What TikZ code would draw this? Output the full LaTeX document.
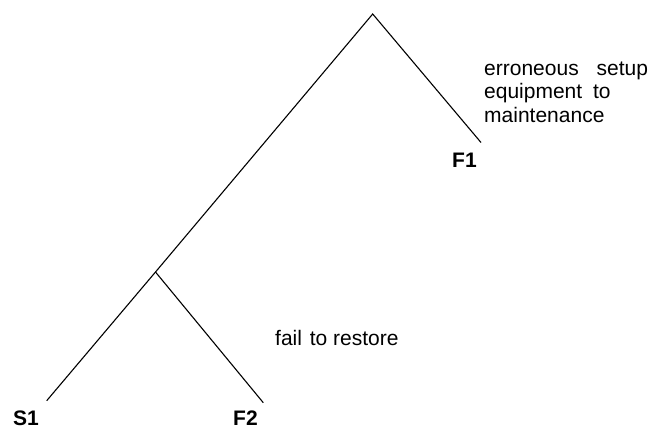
\documentclass[tikz,border=0pt]{standalone}
\usepackage{fontspec}
\setmainfont{Liberation Sans}
\begin{document}
\begin{tikzpicture}[x=1bp,y=-1bp,
  branch/.style={line width=1.1bp,black},
  endlabel/.style={anchor=base west,inner sep=0pt,font=\fontsize{21bp}{23bp}\selectfont\bfseries},
  desc/.style={anchor=base west,inner sep=0pt,align=left,font=\fontsize{21bp}{23.5bp}\selectfont}]
\useasboundingbox (0,0) rectangle (649,428);
\coordinate (top) at (372.7,14);
\coordinate (f1end) at (481,142.5);
\coordinate (mid) at (155.5,272);
\coordinate (s1end) at (46.7,400.7);
\coordinate (f2end) at (263.3,402.7);
\draw[branch] (f1end) -- (top) -- (mid) -- (s1end);
\draw[branch] (mid) -- (f2end);
\node[endlabel] (F1) at (452,167) {F1};
\node[endlabel] (S1) at (13,425) {S1};
\node[endlabel] (F2) at (233,425) {F2};
\node[desc] (d1) at (484,122) {erroneous\hspace{12bp} setup\\equipment\hspace{5bp} to\\maintenance};
\node[desc] (d2) at (275,345) {fail\hspace{2bp} to restore};
\end{tikzpicture}
\end{document}
